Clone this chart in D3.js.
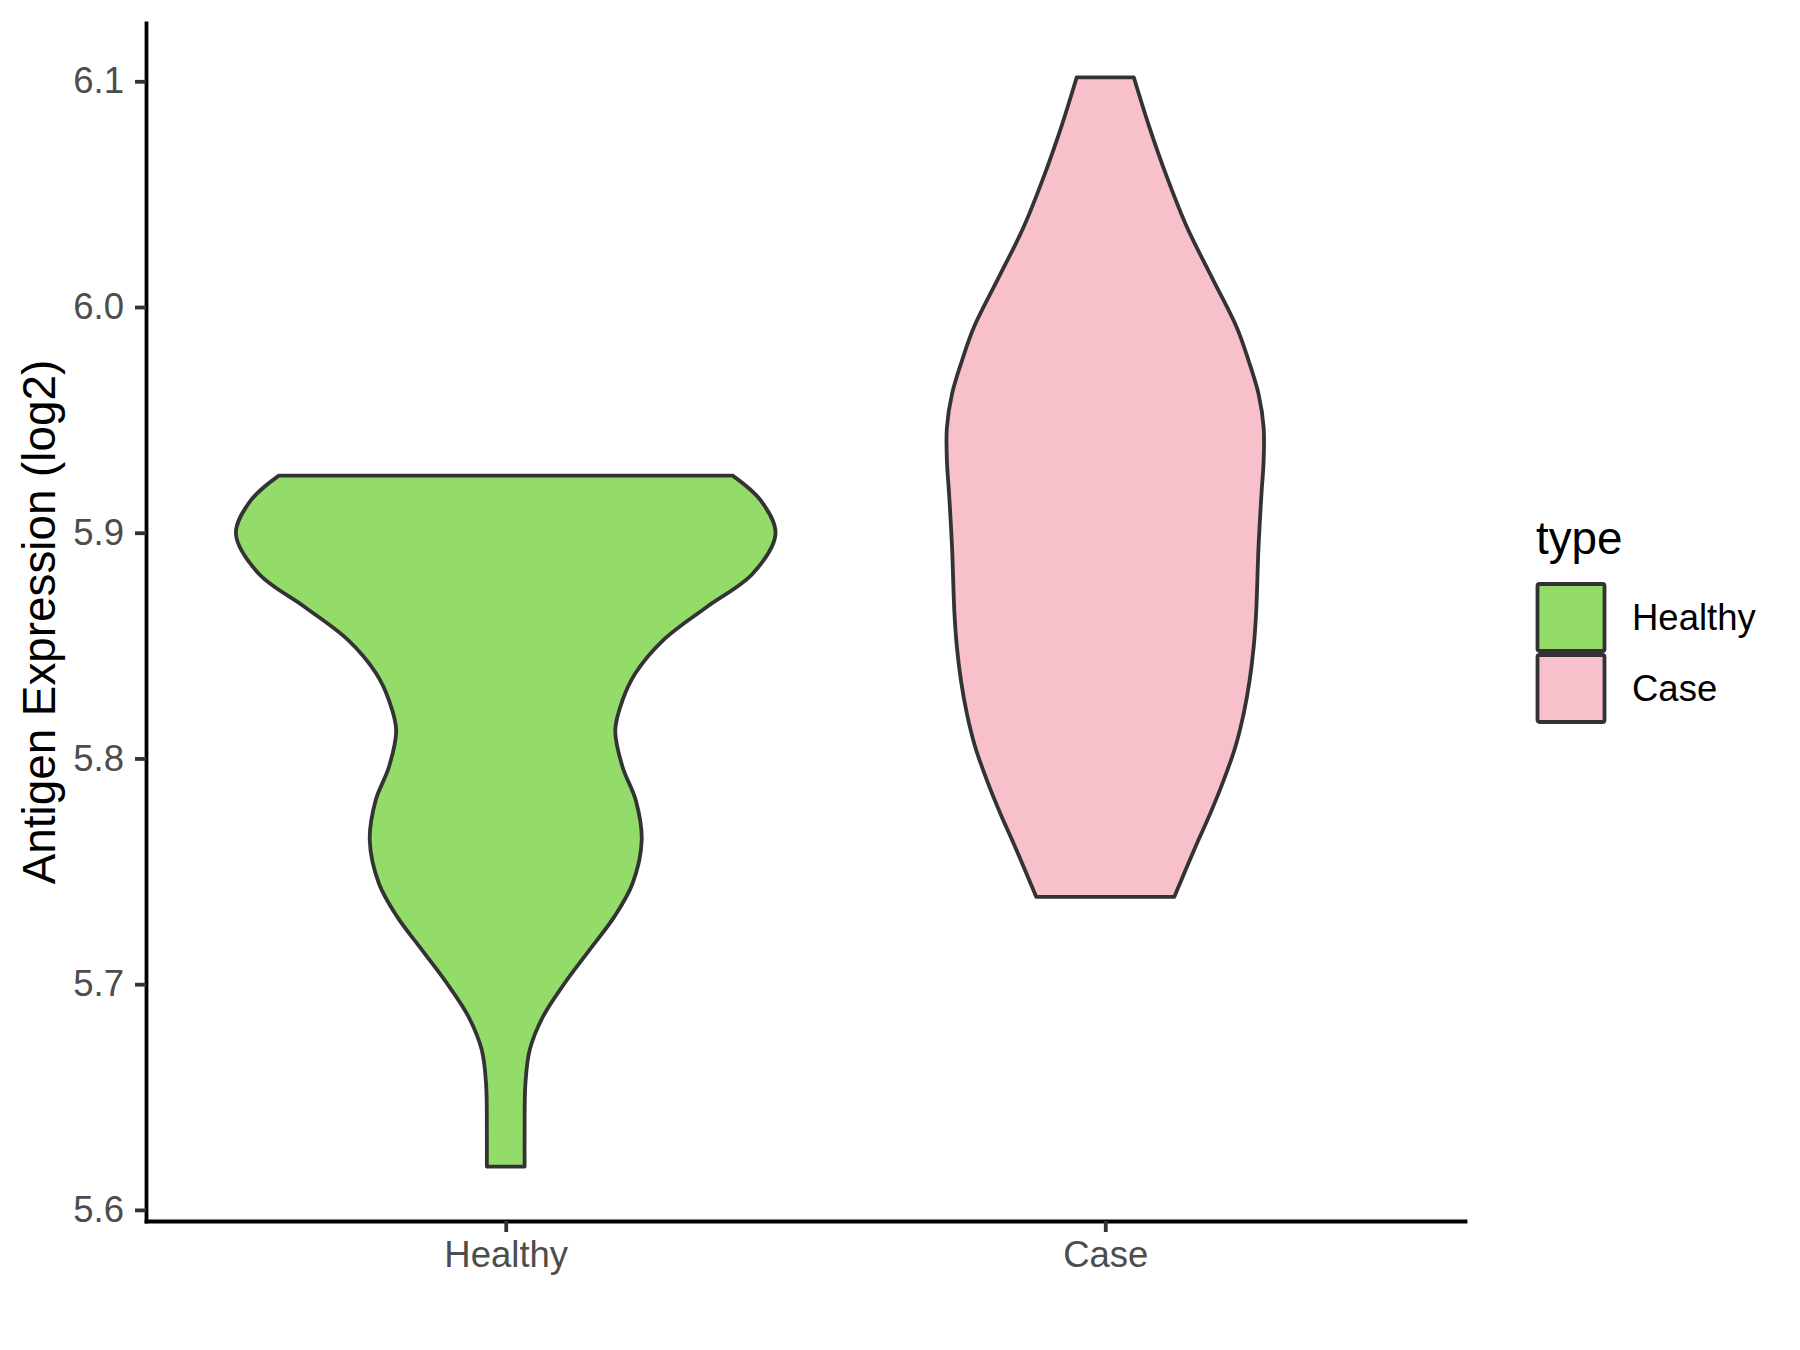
<!DOCTYPE html>
<html>
<head>
<meta charset="utf-8">
<script src="https://cdn.jsdelivr.net/npm/d3@7/dist/d3.min.js"></script>
<style>
  html, body { margin: 0; padding: 0; background: #fff; }
  svg { display: block; }
  text { font-family: "Liberation Sans", Arial, sans-serif; }
</style>
</head>
<body>
<svg id="chart" width="1800" height="1350"></svg>
<script>
// ---- data ----
const categories = ["Healthy", "Case"];
const colors = ["#93DC6A", "#F8C0CB"];
const yTicks = [5.6, 5.7, 5.8, 5.9, 6.0, 6.1];
const yLabel = "Antigen Expression (log2)";
const legendTitle = "type";

// violin outlines: expression value and scaled density (1 = widest violin)
const healthyValues  = [5.6192, 5.6341, 5.6561, 5.6709, 5.6856, 5.7004, 5.7151, 5.7298, 5.7446, 5.7638, 5.7815, 5.7962, 5.8125, 5.8258, 5.8376, 5.8523, 5.8671, 5.8818, 5.8996, 5.9143, 5.9253];
const healthyDensity = [0.070, 0.070, 0.073, 0.089, 0.138, 0.218, 0.310, 0.402, 0.470, 0.504, 0.482, 0.433, 0.406, 0.433, 0.480, 0.583, 0.745, 0.915, 1.000, 0.945, 0.841];
const caseValues  = [5.7387, 5.7608, 5.7756, 5.7904, 5.8051, 5.8199, 5.8346, 5.8494, 5.8641, 5.8936, 5.9173, 5.9320, 5.9467, 5.9615, 5.9763, 5.9910, 6.0131, 6.0353, 6.0574, 6.0795, 6.1017];
const caseDensity = [0.256, 0.334, 0.389, 0.439, 0.482, 0.513, 0.535, 0.550, 0.559, 0.568, 0.579, 0.587, 0.587, 0.568, 0.531, 0.487, 0.395, 0.303, 0.229, 0.164, 0.106];

const series = [
  { name: categories[0], values: healthyValues, density: healthyDensity, color: colors[0] },
  { name: categories[1], values: caseValues, density: caseDensity, color: colors[1] }
];

// ---- layout ----
const panel = { left: 146, right: 1465, top: 23, bottom: 1221 };
const svg = d3.select("#chart");

const allVals = healthyValues.concat(caseValues);
const vmin = d3.min(allVals), vmax = d3.max(allVals), vr = vmax - vmin;
const y = d3.scaleLinear().domain([vmin - 0.05 * vr, vmax + 0.05 * vr]).range([panel.bottom, panel.top]);
const x = d3.scalePoint().domain(categories).range([panel.left, panel.right]).padding(0.6);
const halfMax = 0.45 * x.step();

// ---- violins ----
series.forEach(s => {
  const pts = s.values.map((v, i) => ({ v, d: s.density[i] }));
  const cx = x(s.name);
  const area = d3.area()
    .y(p => y(p.v))
    .x0(p => cx - p.d * halfMax)
    .x1(p => cx + p.d * halfMax)
    .curve(d3.curveCatmullRom.alpha(0.5));
  svg.append("path")
    .attr("d", area(pts))
    .attr("fill", s.color)
    .attr("stroke", "#333333")
    .attr("stroke-width", 3.8)
    .attr("stroke-linejoin", "round");
});

// ---- axes ----
const yAxis = d3.axisLeft(y).tickValues(yTicks).tickFormat(d3.format(".1f")).tickSize(11).tickSizeOuter(0).tickPadding(11);
const gy = svg.append("g").attr("transform", `translate(${panel.left},0)`).call(yAxis);
const xAxis = d3.axisBottom(x).tickSize(11).tickSizeOuter(0).tickPadding(11);
const gx = svg.append("g").attr("transform", `translate(0,${panel.bottom})`).call(xAxis);

[gx, gy].forEach(g => {
  g.select(".domain").attr("stroke", "#000").attr("stroke-width", 3.8).attr("stroke-linecap", "square");
  g.selectAll(".tick line").attr("stroke", "#333333").attr("stroke-width", 3.8);
  g.selectAll(".tick text").attr("fill", "#4D4D4D").style("font-size", "36.5px").style("font-family", '"Liberation Sans", Arial, sans-serif');
});
gx.selectAll(".tick text").attr("dy", null).attr("y", 46);

// y title
svg.append("text")
  .attr("transform", `translate(55,${(panel.top + panel.bottom) / 2}) rotate(-90)`)
  .attr("text-anchor", "middle")
  .style("font-size", "45.8px")
  .attr("fill", "#000")
  .text(yLabel);

// ---- legend ----
const lg = svg.append("g").attr("transform", "translate(1536,0)");
lg.append("text").attr("x", 0).attr("y", 554).style("font-size", "45.8px").attr("fill", "#000").text(legendTitle);
series.forEach((s, i) => {
  const top = 584 + i * 71;
  lg.append("rect")
    .attr("x", 1.5).attr("y", top)
    .attr("width", 67).attr("height", 67)
    .attr("rx", 2)
    .attr("fill", s.color)
    .attr("stroke", "#333333")
    .attr("stroke-width", 3.8);
  lg.append("text")
    .attr("x", 96).attr("y", top + 33.5)
    .attr("dy", "0.35em")
    .style("font-size", "36.5px")
    .attr("fill", "#000")
    .text(s.name);
});
</script>
</body>
</html>
